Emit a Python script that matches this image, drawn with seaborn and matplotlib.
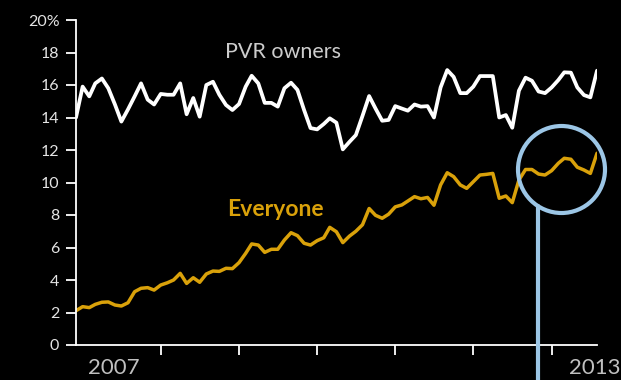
import pandas as pd
import numpy as np
import matplotlib.pyplot as plt
import seaborn as sns
from matplotlib.patches import Ellipse
from matplotlib.lines import Line2D

# Monthly share of viewing, Dec 2006 - Aug 2013
months = pd.date_range("2006-12-01", periods=81, freq="MS")

pvr_owners = [
    14.0, 15.9, 15.3, 16.1, 16.4, 15.8, 14.8, 13.75, 14.5, 15.3,
    16.1, 15.1, 14.8, 15.45, 15.4, 15.4, 16.1, 14.2, 15.2, 14.05,
    16.0, 16.2, 15.4, 14.77, 14.46, 14.83, 15.9, 16.57, 16.1, 14.9,
    14.9, 14.67, 15.8, 16.14, 15.7, 14.46, 13.35, 13.27, 13.6, 13.95,
    13.68, 12.04, 12.5, 12.92, 14.1, 15.32, 14.55, 13.8, 13.85, 14.7,
    14.55, 14.42, 14.8, 14.67, 14.7, 14.0, 15.85, 16.92, 16.5, 15.5,
    15.5, 15.9, 16.55, 16.55, 16.55, 14.0, 14.15, 13.37, 15.65, 16.45,
    16.26, 15.6, 15.5, 15.85, 16.3, 16.78, 16.76, 15.85, 15.38, 15.24,
    16.88,
]

everyone = [
    2.11, 2.36, 2.3, 2.5, 2.63, 2.65, 2.46, 2.4, 2.6, 3.28,
    3.49, 3.53, 3.38, 3.69, 3.83, 4.0, 4.41, 3.79, 4.14, 3.86,
    4.37, 4.55, 4.53, 4.72, 4.7, 5.07, 5.64, 6.22, 6.15, 5.7,
    5.89, 5.89, 6.46, 6.91, 6.73, 6.26, 6.15, 6.42, 6.6, 7.24,
    6.97, 6.3, 6.7, 7.0, 7.4, 8.4, 7.98, 7.8, 8.05, 8.5,
    8.62, 8.86, 9.13, 9.0, 9.08, 8.6, 9.85, 10.6, 10.36, 9.85,
    9.64, 10.05, 10.46, 10.5, 10.56, 9.03, 9.17, 8.76, 10.15, 10.8,
    10.8, 10.52, 10.46, 10.73, 11.18, 11.49, 11.43, 10.94, 10.77, 10.56,
    11.8,
]

y_ticks = list(range(0, 21, 2))
y_labels = [str(v) for v in y_ticks[:-1]] + ["20%"]
year_ticks = pd.to_datetime([f"{y}-01-01" for y in range(2008, 2014)])

df = pd.DataFrame({"month": months, "pvr": pvr_owners, "everyone": everyone})

gold = "#d9a10a"
blue = "#9cc6e6"

sns.set_style("dark", {"axes.facecolor": "black", "figure.facecolor": "black"})
plt.rcParams["font.family"] = ["Lato", "DejaVu Sans"]

fig = plt.figure(figsize=(6.21, 3.8), dpi=100, facecolor="black")
ax = fig.add_axes([76 / 621, 35 / 380, 521 / 621, 325 / 380])
ax.set_facecolor("black")

sns.lineplot(data=df, x="month", y="pvr", color="white", linewidth=2.7, ax=ax)
sns.lineplot(data=df, x="month", y="everyone", color=gold, linewidth=2.5, ax=ax)

ax.set_xlim(months[0], months[-1])
ax.set_ylim(0, 20)
ax.set_yticks(y_ticks)
ax.set_yticklabels(y_labels)
ax.set_xticks(year_ticks)
ax.set_xticklabels([])
ax.set_xlabel("")
ax.set_ylabel("")
ax.grid(False)

for side in ["top", "right"]:
    ax.spines[side].set_visible(False)
for side in ["left", "bottom"]:
    ax.spines[side].set_color("white")
    ax.spines[side].set_linewidth(1.3)

ax.tick_params(axis="y", colors="white", labelcolor="#e4e4e4", length=7,
               width=1.3, labelsize=11.5, pad=5, left=True)
ax.tick_params(axis="x", colors="white", length=7, width=1.3, bottom=True)

# series labels
fig.text(283 / 621, 1 - 52 / 380, "PVR owners", color="#cccccc",
         fontsize=15.5, ha="center", va="center")
fig.text(275 / 621, 1 - 209 / 380, "Everyone", color=gold,
         fontsize=16.5, fontweight="bold", ha="center", va="center")

# year labels
fig.text(88 / 621, 1 - 368 / 380, "2007", color="#c0c0c0",
         fontsize=16, ha="left", va="center")
fig.text(621 / 621, 1 - 368 / 380, "2013", color="#c0c0c0",
         fontsize=16, ha="right", va="center")

# highlight circle and pointer line
circle = Ellipse((561.5 / 621, 1 - 169.5 / 380), 87 / 621, 87 / 380,
                 transform=fig.transFigure, fill=False, edgecolor=blue,
                 linewidth=3, zorder=10)
fig.add_artist(circle)
pointer = Line2D([538 / 621, 538 / 621], [0, 1 - 206 / 380],
                 transform=fig.transFigure, color=blue, linewidth=3, zorder=10)
fig.add_artist(pointer)

fig.savefig("out.png", dpi=100, facecolor="black")
